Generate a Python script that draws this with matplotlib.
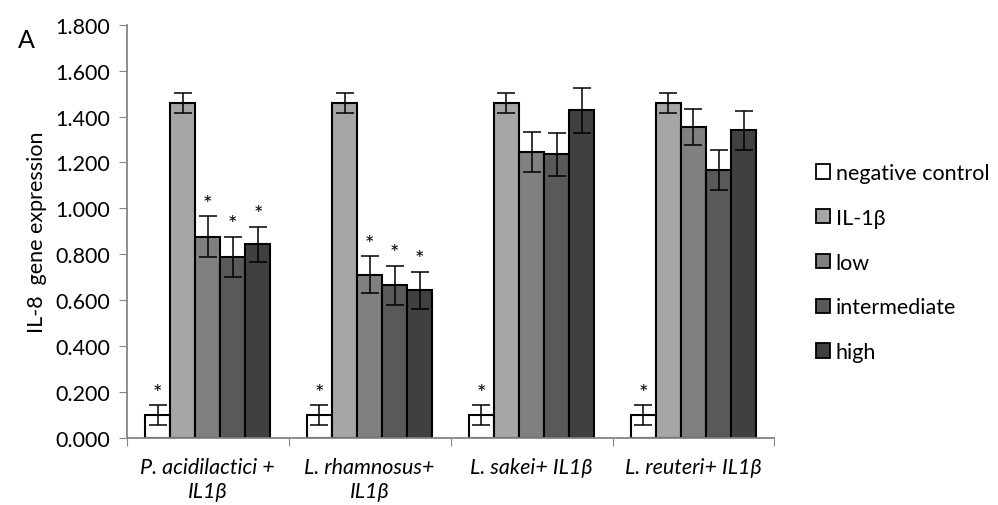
import matplotlib.pyplot as plt
import numpy as np
from matplotlib.patches import Patch

plt.rcParams['font.family'] = ['Lato', 'DejaVu Sans']

groups = ['P. acidilactici +\nIL1β', 'L. rhamnosus+\nIL1β', 'L. sakei+ IL1β', 'L. reuteri+ IL1β']
series = ['negative control', 'IL-1β', 'low', 'intermediate', 'high']
colors = ['#ffffff', '#a6a6a6', '#808080', '#595959', '#404040']

neg_control = [0.100, 0.100, 0.100, 0.100]
il1b = [1.460, 1.460, 1.460, 1.460]
low = [0.877, 0.711, 1.244, 1.353]
intermediate = [0.790, 0.666, 1.235, 1.168]
high = [0.843, 0.643, 1.427, 1.340]

neg_err = [0.042, 0.042, 0.042, 0.042]
il1b_err = [0.043, 0.043, 0.043, 0.043]
low_err = [0.088, 0.080, 0.087, 0.079]
int_err = [0.087, 0.085, 0.095, 0.087]
high_err = [0.078, 0.080, 0.097, 0.084]

# significance stars (1 = star above bar)
stars = [
    [1, 1, 1, 1],
    [0, 0, 0, 0],
    [1, 1, 0, 0],
    [1, 1, 0, 0],
    [1, 1, 0, 0],
]

values = [neg_control, il1b, low, intermediate, high]
errors = [neg_err, il1b_err, low_err, int_err, high_err]

fig = plt.figure(figsize=(9.98, 5.06), dpi=100)
ax = fig.add_axes([0.127, 0.1324, 0.649, 0.8168])

x = np.arange(len(groups))
w = 0.155
for k in range(len(series)):
    pos = x + (k - 2) * w
    ax.bar(pos, values[k], w, color=colors[k], edgecolor='black', linewidth=1.5,
           label=series[k], zorder=2)
    ax.errorbar(pos, values[k], yerr=errors[k], fmt='none', ecolor='black',
                elinewidth=1.1, capsize=6.5, capthick=1.1, zorder=3)
    for i in range(len(groups)):
        if stars[k][i]:
            ax.annotate('*', (pos[i], values[k][i] + errors[k][i]), xytext=(0, 2),
                        textcoords='offset points', ha='center', va='bottom',
                        fontsize=16)

ax.set_xlim(-0.5, len(groups) - 0.5)
ax.set_ylim(0, 1.8)
ax.set_yticks(np.arange(0, 1.81, 0.2))
ax.set_yticklabels(['%.3f' % v for v in np.arange(0, 1.81, 0.2)], fontsize=15.5)
ax.set_xticks(np.arange(-0.5, len(groups), 1.0))
ax.set_xticklabels([])
ax.set_xticks(x, minor=True)
ax.set_xticklabels(groups, minor=True, fontsize=15.5, style='italic', linespacing=1.25)
ax.tick_params(axis='x', which='minor', length=0, pad=14)
ax.tick_params(axis='x', which='major', length=6, color='#868686', direction='out')
ax.tick_params(axis='y', length=6, color='#868686', direction='out', pad=6)

for s in ['top', 'right']:
    ax.spines[s].set_visible(False)
for s in ['left', 'bottom']:
    ax.spines[s].set_color('#868686')
    ax.spines[s].set_linewidth(1.3)

ax.set_ylabel('IL-8  gene expression', fontsize=15.5, labelpad=6)
fig.text(0.018, 0.905, 'A', fontsize=18)

handles = [Patch(facecolor=c, edgecolor='black', linewidth=1.3) for c in colors]
fig.legend(handles, series, loc='center left', bbox_to_anchor=(0.818, 0.479),
           frameon=False, fontsize=15.5, handlelength=0.65, handleheight=0.65,
           handletextpad=0.25, labelspacing=1.15, borderpad=0, borderaxespad=0)

fig.savefig('out.png', dpi=100)
